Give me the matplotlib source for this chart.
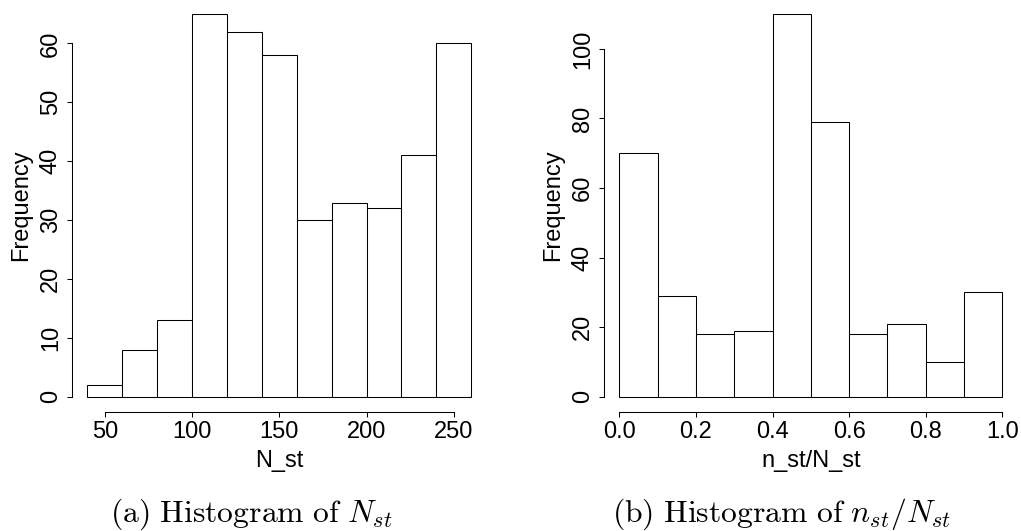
import numpy as np
import matplotlib
matplotlib.use("Agg")
import matplotlib.pyplot as plt

# ---- data ----
n_breaks = [40, 60, 80, 100, 120, 140, 160, 180, 200, 220, 240, 260]
n_counts = [2, 8, 13, 65, 62, 58, 30, 33, 32, 41, 60]
n_xticks = [50, 100, 150, 200, 250]
n_yticks = [0, 10, 20, 30, 40, 50, 60]

r_breaks = [0.0, 0.1, 0.2, 0.3, 0.4, 0.5, 0.6, 0.7, 0.8, 0.9, 1.0]
r_counts = [70, 29, 18, 19, 110, 79, 18, 21, 10, 30]
r_xticks = [0.0, 0.2, 0.4, 0.6, 0.8, 1.0]
r_yticks = [0, 20, 40, 60, 80, 100]

plt.rcParams['font.family'] = ['Liberation Sans', 'DejaVu Sans']
plt.rcParams['mathtext.fontset'] = 'cm'

W, H = 1021, 531
fig = plt.figure(figsize=(W / 100, H / 100), dpi=100)
FS = 17

top_px, bot_px = -1.3, 412.2
def ax_at(x0, x1):
    return fig.add_axes([x0 / W, (H - bot_px) / H, (x1 - x0) / W, (bot_px - top_px) / H])

def hist_panel(ax, breaks, counts, xticks, yticks, xlabel, xfmt):
    breaks = np.asarray(breaks, dtype=float)
    counts = np.asarray(counts, dtype=float)
    widths = np.diff(breaks)
    ax.bar(breaks[:-1], counts, width=widths, align='edge',
           facecolor='white', edgecolor='black', linewidth=0.75)
    xr = breaks[-1] - breaks[0]
    ax.set_xlim(breaks[0] - 0.04 * xr, breaks[-1] + 0.04 * xr)
    ymax = counts.max()
    ax.set_ylim(-0.04 * ymax, ymax * 1.04)
    for s in ['top', 'right']:
        ax.spines[s].set_visible(False)
    ax.spines['left'].set_bounds(yticks[0], yticks[-1])
    ax.spines['bottom'].set_bounds(xticks[0], xticks[-1])
    for s in ['left', 'bottom']:
        ax.spines[s].set_linewidth(0.75)
    ax.set_xticks(xticks)
    ax.set_xticklabels([xfmt(v) for v in xticks])
    ax.set_yticks(yticks)
    ax.set_yticklabels([str(v) for v in yticks])
    ax.tick_params(axis='both', direction='out', length=3.8, width=0.75,
                   labelsize=FS, colors='black')
    ax.tick_params(axis='x', pad=2.5)
    ax.tick_params(axis='y', pad=3.5)
    for lab in ax.get_yticklabels():
        lab.set_rotation(90)
        lab.set_va('center')
    ax.set_xlabel(xlabel, fontsize=FS)
    ax.xaxis.label.set_va('baseline')
    ax.xaxis.set_label_coords(0.5, -(467 - bot_px) / (bot_px - top_px))
    ax.set_ylabel('Frequency', fontsize=FS, va='center')
    wpx = ax.get_position().width * W
    ax.yaxis.set_label_coords(-51 / wpx, 0.5)

ax1 = ax_at(72, 486.6)
hist_panel(ax1, n_breaks, n_counts, n_xticks, n_yticks, 'N_st', lambda v: str(v))
ax2 = ax_at(604, 1017.6)
hist_panel(ax2, r_breaks, r_counts, r_xticks, r_yticks, 'n_st/N_st', lambda v: f"{v:.1f}")

cap_y = (H - 522) / H
fig.text(251 / W, cap_y, r"$\mathrm{(a)\ Histogram\ of\ }N_{st}$",
         ha='center', va='baseline', fontsize=22.8)
fig.text(782 / W, cap_y, r"$\mathrm{(b)\ Histogram\ of\ }n_{st}/N_{st}$",
         ha='center', va='baseline', fontsize=22.8)

fig.savefig('out.png', dpi=100, facecolor='white')
